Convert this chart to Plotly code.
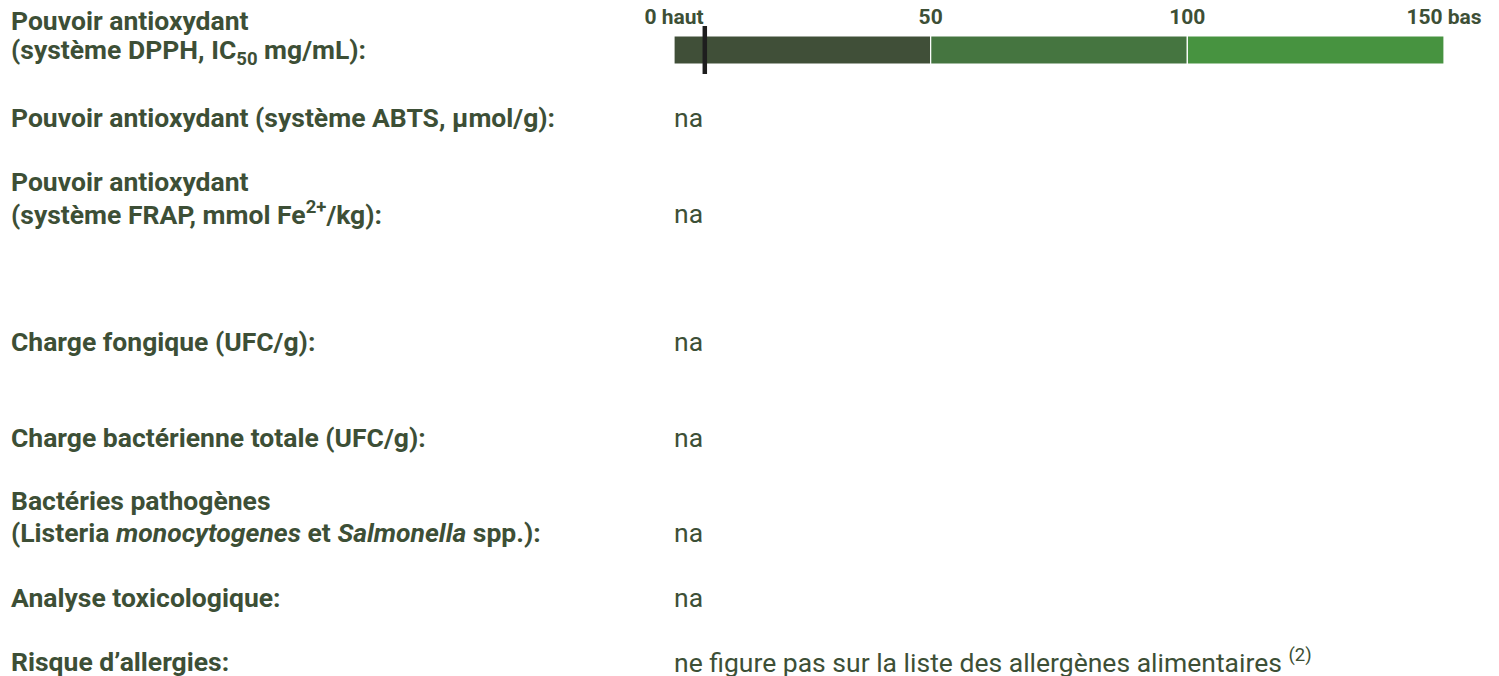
import plotly.graph_objects as go

# page body has an 8px margin; the figure is sized/positioned to compensate
OFF = 8
W, H = 1499 - OFF, 676 - OFF

# scale
scale_segments = [50, 50, 50]
scale_colors = ["#404f38", "#457540", "#479340"]
tick_vals = [0, 50, 100, 150]
tick_text = ["0 haut", "50", "100", "150 bas"]
dpph_value = 6

labels = [
    ["Pouvoir antioxydant", "(système DPPH, IC<sub>50</sub> mg/mL):"],
    ["Pouvoir antioxydant (système ABTS, µmol/g):"],
    ["Pouvoir antioxydant", "(système FRAP, mmol Fe<sup>2+</sup>/kg):"],
    ["Charge fongique (UFC/g):"],
    ["Charge bactérienne totale (UFC/g):"],
    ["Bactéries pathogènes", "(Listeria <i>monocytogenes</i> et <i>Salmonella</i> spp.):"],
    ["Analyse toxicologique:"],
    ["Risque d’allergies:"],
]
values = [
    None,
    "na",
    "na",
    "na",
    "na",
    "na",
    "na",
    "ne figure pas sur la liste des allergènes alimentaires <sup>(2)</sup>",
]
label_y_px = [20, 117, 181, 341, 437, 500, 597, 661]
value_y_px = [None, 117, 213, 341, 437, 532, 597, 661]
LINE_STEP = 32

TXT = "#3d4f36"


def px_x(p):
    return (p - OFF) / W


def px_y(p):
    return 1 - (p - OFF) / H


fig = go.Figure()
base = 0
for seg, col in zip(scale_segments, scale_colors):
    fig.add_trace(go.Bar(
        x=[seg], y=[0.5], base=[base], orientation="h", width=28 / 48,
        marker=dict(color=col, line=dict(color="white", width=1.2)),
        hoverinfo="skip", showlegend=False,
    ))
    base += seg
fig.add_trace(go.Scatter(
    x=[dpph_value, dpph_value], y=[0, 1], mode="lines",
    line=dict(color="#1e1e1e", width=4.5), hoverinfo="skip", showlegend=False,
))

fig.update_layout(
    width=W, height=H,
    margin=dict(l=0, r=0, t=0, b=0, autoexpand=False),
    paper_bgcolor="white", plot_bgcolor="white",
    barmode="overlay", showlegend=False,
    font=dict(family="Roboto", color=TXT),
    xaxis=dict(
        domain=[px_x(674), px_x(1444)], range=[0, 150], side="top",
        anchor="free", position=px_y(28.5),
        tickvals=tick_vals, ticktext=tick_text,
        tickfont=dict(family="Roboto", size=21, color=TXT, weight="bold"),
        showgrid=False, zeroline=False, showline=False, ticks="",
        fixedrange=True, automargin=False,
    ),
    yaxis=dict(
        domain=[px_y(74), px_y(26)], range=[0, 1],
        showticklabels=False, showgrid=False, zeroline=False, showline=False,
        fixedrange=True, automargin=False,
    ),
)

anns = []
for lines, ly in zip(labels, label_y_px):
    for i, ln in enumerate(lines):
        anns.append(dict(
            x=px_x(9), y=px_y(ly + i * LINE_STEP), xref="paper", yref="paper",
            xanchor="left", yanchor="middle", align="left", showarrow=False,
            text="<b>" + ln + "</b>",
            font=dict(family="Roboto", size=26.5, color=TXT),
        ))
for val, vy in zip(values, value_y_px):
    if val is None:
        continue
    anns.append(dict(
        x=px_x(672), y=px_y(vy), xref="paper", yref="paper",
        xanchor="left", yanchor="middle", align="left", showarrow=False,
        text=val,
        font=dict(family="Roboto", size=26.5, color=TXT),
    ))
fig.update_layout(annotations=anns)

fig.write_html("out.html")
